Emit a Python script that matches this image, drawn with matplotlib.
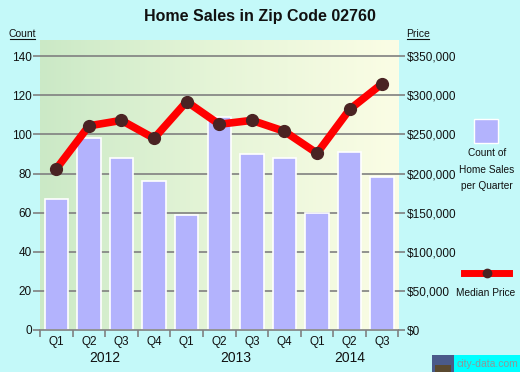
import numpy as np
import matplotlib
matplotlib.use("Agg")
import matplotlib.pyplot as plt
from matplotlib.colors import LinearSegmentedColormap

plt.rcParams['font.family'] = ['Liberation Sans', 'DejaVu Sans']

quarters = ["Q1", "Q2", "Q3", "Q4", "Q1", "Q2", "Q3", "Q4", "Q1", "Q2", "Q3"]
years = ["2012", "2013", "2014"]
counts = [67, 98, 88, 76, 59, 109, 90, 88, 60, 91, 78]
prices = [206000, 261000, 268000, 245000, 292000, 263000, 268000, 254000, 226000, 282000, 315000]
count_ticks = [0, 20, 40, 60, 80, 100, 120, 140]
price_ticks = [0, 50000, 100000, 150000, 200000, 250000, 300000, 350000]

W, H = 520, 372
fig = plt.figure(figsize=(W / 100, H / 100), dpi=100)
fig.patch.set_facecolor("#c4f9f9")

left, right, top, bottom = 40, 398.5, 40, 330
ax = fig.add_axes([left / W, 1 - bottom / H, (right - left) / W, (bottom - top) / H])
ymax = 148.3
n = len(counts)
x = np.arange(n)
ax.set_xlim(-0.5, n - 0.5)
ax.set_ylim(0, ymax)

cmap = LinearSegmentedColormap.from_list("g", ["#cbe9c6", "#e6f5d8", "#fbfde5"])
grad = np.linspace(0, 1, 256).reshape(1, -1)
ax.imshow(grad, cmap=cmap, aspect="auto", extent=(-0.5, n - 0.5, 0, ymax), zorder=0)

for t in count_ticks[1:]:
    ax.axhline(t, color="#808080", lw=1.2, zorder=1)

ax.bar(x, counts, width=0.72, color="#b3b3fd", edgecolor="white", linewidth=1.2, zorder=2)

ax2 = ax.twinx()
ax2.set_ylim(0, ymax * 2500)
ax2.plot(x, prices, color="#ff0000", lw=5.5, zorder=3, solid_capstyle="butt")
ax2.plot(x, prices, "o", color="#4a2323", markersize=8.5, zorder=4)

for a in (ax, ax2):
    for s in a.spines.values():
        s.set_visible(False)
ax.spines["bottom"].set_visible(True)
ax.spines["bottom"].set_color("#808080")
ax.spines["bottom"].set_linewidth(1.2)

ax.set_yticks(count_ticks)
ax.set_yticklabels([str(v) for v in count_ticks], fontsize=8.5, color="#111111")
ax.tick_params(axis="y", length=5, width=1.2, color="#808080", pad=1)
ax2.set_yticks(price_ticks)
ax2.set_yticklabels(["${:,}".format(v) for v in price_ticks], fontsize=8.5, color="#111111")
ax2.tick_params(axis="y", length=5, width=1.2, color="#808080", pad=1)

ax.set_xticks(np.arange(n + 1) - 0.5)
ax.set_xticklabels([])
ax.tick_params(axis="x", length=5, width=1.2, color="#808080")
for i, q in enumerate(quarters):
    ax.text(i, -6, q, ha="center", va="center", fontsize=8.5, color="#111111")
year_pos = [1.5, 5.5, 9]
for yp, yl in zip(year_pos, years):
    ax.text(yp, -14.5, yl, ha="center", va="center", fontsize=10, color="#111111")

fig.text(260 / W, 1 - 16 / H, "Home Sales in Zip Code 02760", ha="center", va="center",
         fontsize=11.5, fontweight="bold", color="#111111")
fig.text(22 / W, 1 - 34 / H, "Count", ha="center", va="center", fontsize=7.5, color="#111111")
fig.add_artist(plt.Line2D([10 / W, 35 / W], [1 - 39 / H, 1 - 39 / H], color="#111111", lw=0.8))
fig.text(418 / W, 1 - 34 / H, "Price", ha="center", va="center", fontsize=7.5, color="#111111")
fig.add_artist(plt.Line2D([407 / W, 429 / W], [1 - 39 / H, 1 - 39 / H], color="#111111", lw=0.8))

# legend
fig.add_artist(plt.Rectangle((474 / W, 1 - 143 / H), 24 / W, 24 / H, facecolor="#b3b3fd",
                             edgecolor="white", lw=1, transform=fig.transFigure))
for ty, tl in zip([153, 170, 186], ["Count of", "Home Sales", "per Quarter"]):
    fig.text(487 / W, 1 - ty / H, tl, ha="center", va="center", fontsize=7.3, color="#111111")
fig.add_artist(plt.Line2D([464 / W, 509 / W], [1 - 273 / H, 1 - 273 / H], color="#ff0000", lw=5))
fig.add_artist(plt.Line2D([486.5 / W], [1 - 273 / H], marker="o", color="#4a2323", markersize=6))
fig.text(486 / W, 1 - 293 / H, "Median Price", ha="center", va="center", fontsize=7.3, color="#111111")

# logo
fig.add_artist(plt.Rectangle((454 / W, 0), 66 / W, 17 / H, facecolor="#00ffff",
                             edgecolor="none", transform=fig.transFigure))
fig.add_artist(plt.Rectangle((432 / W, 0), 22 / W, 17 / H, facecolor="#4a5a8a",
                             edgecolor="none", transform=fig.transFigure))
fig.add_artist(plt.Rectangle((435 / W, 0), 16 / W, 7 / H, facecolor="#5a4a30",
                             edgecolor="none", transform=fig.transFigure))
fig.text(487 / W, 1 - 364 / H, "city-data.com", ha="center", va="center", fontsize=7.5,
         color="#8a9a9a", zorder=10)

fig.savefig("out.png", dpi=100, facecolor=fig.get_facecolor())
